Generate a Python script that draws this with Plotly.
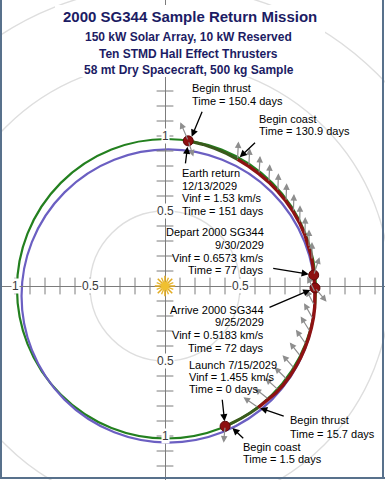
import math
import plotly.graph_objects as go

# ---------------- data ----------------
TITLE = "2000 SG344 Sample Return Mission"
SUBTITLES = ["150 kW Solar Array, 10 kW Reserved",
             "Ten STMD Hall Effect Thrusters",
             "58 mt Dry Spacecraft, 500 kg Sample"]

# spacecraft trajectory: heliocentric longitude (deg) and radius (AU)
TRAJ_THETA = [-66.8, -65.3, -60, -56, -52.5, -48, -44, -40, -36, -32, -28, -24, -20,
              -16, -12, -8, -4, -0.75, 1.5, 4.2, 8, 12, 16, 20, 25, 30, 35, 40, 45,
              50, 55, 60.2, 65, 70, 75, 80.3, 80.9]
TRAJ_R = [1.017, 1.017, 1.018, 1.019, 1.021, 1.024, 1.027, 1.028, 1.027, 1.025, 1.023,
          1.020, 1.018, 1.015, 1.012, 1.008, 1.004, 1.000, 0.997, 0.994, 0.995, 0.995,
          0.994, 0.993, 0.991, 0.988, 0.985, 0.982, 0.979, 0.976, 0.974, 0.973, 0.974,
          0.975, 0.977, 0.979, 0.980]

# flight phases (start theta, end theta, thrusting)
PHASE_START = [-66.8, -65.3, -52.5, -0.75, 4.2, 60.2, 80.3]
PHASE_END = [-65.3, -52.5, -0.75, 4.2, 60.2, 80.3, 80.9]
PHASE_THRUST = [True, False, True, True, True, False, True]

# key events (Launch, Arrive, Depart, Earth return) markers
MARKER_THETA = [-66.8, -0.75, 4.2, 80.9]
MARKER_R = [1.017, 1.000, 0.994, 0.980]

# orbits (ellipse centre / radii, AU)
ORBIT_NAMES = ["Earth", "2000 SG344"]
ORBIT_CX = [0.010, 0.0217]
ORBIT_CY = [-0.0183, -0.0667]
ORBIT_RX = [0.9967, 0.978]
ORBIT_RY = [0.9983, 0.977]
ORBIT_COLORS = ["#23801f", "#6b5fc2"]

RING_R = [0.5, 1.5, 2.0]

# thrust / v-infinity vectors: base (theta, r), direction (deg), length (AU)
ARROW_THETA = [-52.5, -47.5, -42.5, -37.5, -32.5, -27.5, -22.5, -17.5, -12.5, -7.5, -2.5,
               10, 15, 20, 25, 30, 35, 40, 45, 50, 55, 60.2,
               -66.8, -0.75, 4.2, 80.9, 80.9]
ARROW_R = [1.021, 1.025, 1.028, 1.027, 1.024, 1.021, 1.019, 1.015, 1.011, 1.006, 1.002,
           0.995, 0.994, 0.993, 0.991, 0.988, 0.985, 0.982, 0.979, 0.976, 0.974, 0.973,
           1.017, 1.000, 0.994, 0.980, 0.980]
ARROW_DIR = [145, 142, 138, 135, 132, 128, 125, 122, 120, 118, 116,
             90, 90, 89, 89, 88, 88, 88, 87, 87, 87, 87,
             -95, -50, 72, 113, -72]
ARROW_LEN = [0.12, 0.12, 0.12, 0.12, 0.12, 0.12, 0.12, 0.12, 0.12, 0.12, 0.12,
             0.12, 0.12, 0.12, 0.12, 0.12, 0.12, 0.12, 0.12, 0.12, 0.12, 0.12,
             0.11, 0.12, 0.125, 0.135, 0.11]

X_TICKS = [i / 10 for i in range(-10, 15) if i != 0]
Y_TICKS = [i / 10 for i in range(-12, 15) if i != 0]
X_TICK_LABELS = {-1.0: "1", -0.5: "0.5", 0.5: "0.5", 1.5: "1.5"}
Y_TICK_LABELS = {1.0: "1", 0.5: "0.5", -0.5: "0.5", -1.0: "1"}

# event labels: text lines, event (theta, r)
LABELS = [
    dict(lines=["Begin thrust", "Time = 150.4 days"], ev=(80.3, 0.979)),
    dict(lines=["Begin coast", "Time = 130.9 days"], ev=(60.2, 0.973)),
    dict(lines=["Earth return", "12/13/2029", "Vinf = 1.53 km/s", "Time = 151 days"], ev=(80.9, 0.980)),
    dict(lines=["Depart 2000 SG344", "9/30/2029", "Vinf = 0.6573 km/s", "Time = 77 days"], ev=(4.2, 0.994)),
    dict(lines=["Arrive 2000 SG344", "9/25/2029", "Vinf = 0.5183 km/s", "Time = 72 days"], ev=(-0.75, 1.000)),
    dict(lines=["Launch 7/15/2029", "Vinf = 1.455 km/s", "Time = 0 days"], ev=(-66.8, 1.017)),
    dict(lines=["Begin thrust", "Time = 15.7 days"], ev=(-52.5, 1.021)),
    dict(lines=["Begin coast", "Time = 1.5 days"], ev=(-65.3, 1.017)),
]
# layout of labels (pixels): text x, first line y, line step, align, arrow tail offset, standoff
LABEL_LAYOUT = [
    (190, 88, 13.0, "left", (13, -31), 5),
    (257, 119, 12.0, "left", (19, -18), 3),
    (180, 173, 12.6, "left", (-3, 24), 6),
    (266, 232, 12.8, "right", (-42, -7), 5),
    (266, 309.5, 12.7, "right", (-47, 20), 5),
    (187, 365, 11.8, "left", (-3, -28), 5),
    (288, 420, 14.0, "left", (27, 9), 2),
    (241, 447, 12.0, "left", (16, 15), 5),
]

# ---------------- figure ----------------
W, H = 385, 480
XR = [-1.1, 1.4667]
YR = [-1.2933, 1.9067]
FONT = "Liberation Sans, Arial, sans-serif"
AXIS_GRAY = "#7c7c7c"


def pol(theta, r):
    t = math.radians(theta)
    return r * math.cos(t), r * math.sin(t)


def paper(px, py):
    return px / W, 1 - py / H


fig = go.Figure()
shapes = []
annotations = []

# grid rings
for rr in RING_R:
    shapes.append(dict(type="circle", xref="x", yref="y", x0=-rr, x1=rr, y0=-rr, y1=rr,
                       line=dict(color="#dedede", width=1.4), layer="below"))
# orbits
for cx, cy, rx, ry, col in zip(ORBIT_CX, ORBIT_CY, ORBIT_RX, ORBIT_RY, ORBIT_COLORS):
    shapes.append(dict(type="circle", xref="x", yref="y", x0=cx - rx, x1=cx + rx,
                       y0=cy - ry, y1=cy + ry, line=dict(color=col, width=2.2), layer="below"))

# axis ticks
fig.add_trace(go.Scatter(x=X_TICKS, y=[0] * len(X_TICKS), mode="markers",
                         marker=dict(symbol="line-ns-open", size=12, color=AXIS_GRAY,
                                     line=dict(color=AXIS_GRAY, width=1)),
                         hoverinfo="skip", showlegend=False))
fig.add_trace(go.Scatter(x=[0] * len(Y_TICKS), y=Y_TICKS, mode="markers",
                         marker=dict(symbol="line-ew-open", size=12, color=AXIS_GRAY,
                                     line=dict(color=AXIS_GRAY, width=1)),
                         hoverinfo="skip", showlegend=False))

# trajectory by phase
for s, e, thr in zip(PHASE_START, PHASE_END, PHASE_THRUST):
    xs, ys = [], []
    for th, r in zip(TRAJ_THETA, TRAJ_R):
        if s - 1e-9 <= th <= e + 1e-9:
            x, y = pol(th, r)
            xs.append(x)
            ys.append(y)
    fig.add_trace(go.Scatter(x=xs, y=ys, mode="lines",
                             line=dict(color="#8e1212" if thr else "#3a5a1c", width=3.4 if thr else 3),
                             hoverinfo="skip", showlegend=False))

# sun
fig.add_trace(go.Scatter(x=[0], y=[0], mode="markers",
                         marker=dict(symbol="asterisk-open", size=17, color="#e2ab22",
                                     line=dict(color="#e2ab22", width=1.6)),
                         hoverinfo="skip", showlegend=False))
fig.add_trace(go.Scatter(x=[0], y=[0], mode="markers",
                         marker=dict(symbol="asterisk-open", size=15, angle=22.5, color="#e8b830",
                                     line=dict(color="#e8b830", width=1.4)),
                         hoverinfo="skip", showlegend=False))
fig.add_trace(go.Scatter(x=[0], y=[0], mode="markers",
                         marker=dict(symbol="circle", size=8, color="#f0c030"),
                         hoverinfo="skip", showlegend=False))

# event markers
mx, my = zip(*[pol(t, r) for t, r in zip(MARKER_THETA, MARKER_R)])
fig.add_trace(go.Scatter(x=list(mx), y=list(my), mode="markers",
                         marker=dict(symbol="circle", size=10, color="#8e1010",
                                     line=dict(color="#5c0808", width=1)),
                         hoverinfo="skip", showlegend=False))

# gray thrust / vinf arrows
for th, r, d, ln in zip(ARROW_THETA, ARROW_R, ARROW_DIR, ARROW_LEN):
    bx, by = pol(th, r)
    tx = bx + ln * math.cos(math.radians(d))
    ty = by + ln * math.sin(math.radians(d))
    annotations.append(dict(x=tx, y=ty, ax=bx, ay=by, xref="x", yref="y", axref="x", ayref="y",
                            text="", showarrow=True, arrowhead=2, arrowsize=1.1, arrowwidth=1.2,
                            arrowcolor="#8e8e8e", standoff=0, startstandoff=0))

# tick labels
for v, t in X_TICK_LABELS.items():
    annotations.append(dict(x=v, y=0, xref="x", yref="y", text=t, showarrow=False,
                            font=dict(family=FONT, size=12, color="#3a3a3a"),
                            bgcolor="white", borderpad=0, xanchor="center", yanchor="middle"))
for v, t in Y_TICK_LABELS.items():
    annotations.append(dict(x=0, y=v, xref="x", yref="y", text=t, showarrow=False,
                            font=dict(family=FONT, size=12, color="#3a3a3a"),
                            bgcolor="white", borderpad=0, xanchor="center", yanchor="middle"))

# event labels
for lab, (lx, ly, step, align, (ox, oy), so) in zip(LABELS, LABEL_LAYOUT):
    for i, line in enumerate(lab["lines"]):
        px_, py_ = paper(lx, ly + i * step)
        annotations.append(dict(x=px_, y=py_, xref="paper", yref="paper", text=line,
                                showarrow=False, xanchor=align, yanchor="middle",
                                font=dict(family=FONT, size=11, color="black")))
    ex, ey = pol(*lab["ev"])
    annotations.append(dict(x=ex, y=ey, xref="x", yref="y", ax=ox, ay=oy, axref="pixel", ayref="pixel",
                            text="", showarrow=True, arrowhead=2, arrowsize=1.1, arrowwidth=1.3,
                            arrowcolor="black", standoff=so))

# title block background
x0p, y0p = paper(55, 5)
x1p, y1p = paper(325, 77)
shapes.append(dict(type="rect", xref="paper", yref="paper", x0=x0p, x1=x1p, y0=y1p, y1=y0p,
                   fillcolor="white", line=dict(width=0), layer="above"))

# titles
tx, ty = paper(190, 17)
annotations.append(dict(x=tx, y=ty, xref="paper", yref="paper", text="<b>" + TITLE + "</b>",
                        showarrow=False, xanchor="center", yanchor="middle",
                        font=dict(family=FONT, size=15, color="#1c1c64")))
for i, s in enumerate(SUBTITLES):
    sx, sy = paper(188.5, 37 + i * 16.7)
    annotations.append(dict(x=sx, y=sy, xref="paper", yref="paper", text="<b>" + s + "</b>",
                            showarrow=False, xanchor="center", yanchor="middle",
                            font=dict(family=FONT, size=12, color="#1c1c64")))

# frame
for (a, b, c, d) in [(1, 0, 1, 478), (383, 0, 383, 478), (0, 478, 385, 478)]:
    xa, ya = paper(a, b)
    xb, yb = paper(c, d)
    shapes.append(dict(type="line", xref="paper", yref="paper", x0=xa, y0=ya, x1=xb, y1=yb,
                       line=dict(color="#58718c", width=2), layer="above"))

fig.update_layout(
    width=W, height=H, margin=dict(l=0, r=0, t=0, b=0),
    paper_bgcolor="white", plot_bgcolor="white",
    shapes=shapes, annotations=annotations, showlegend=False,
    xaxis=dict(range=XR, showgrid=False, showticklabels=False, ticks="", showline=False,
               zeroline=True, zerolinecolor=AXIS_GRAY, zerolinewidth=1, fixedrange=True),
    yaxis=dict(range=YR, showgrid=False, showticklabels=False, ticks="", showline=False,
               zeroline=True, zerolinecolor=AXIS_GRAY, zerolinewidth=1, fixedrange=True),
)

fig.write_html("out.html", config={"displayModeBar": False},
               post_script="document.body.style.margin='0';document.body.style.padding='0';")
